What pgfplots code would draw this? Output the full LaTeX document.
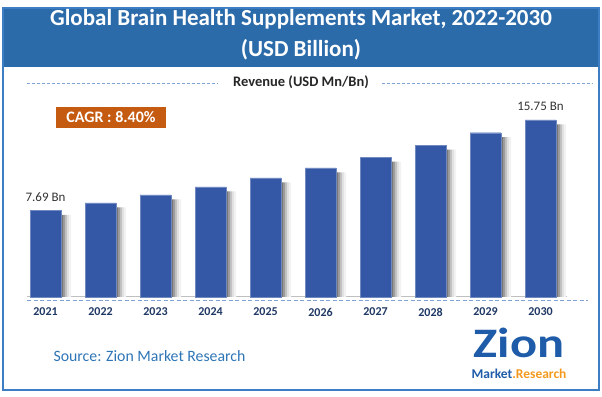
\documentclass[border=0pt]{standalone}
\usepackage{pgfplots}
\pgfplotsset{compat=1.18}
\usepackage{fontspec}
\setmainfont{Carlito}
\definecolor{barblue}{HTML}{3457A6}
\definecolor{banner}{HTML}{2C6BAA}
\definecolor{frameblue}{HTML}{3C7DC3}
\definecolor{navy}{HTML}{1F3864}
\definecolor{cagr}{HTML}{C55A11}
\definecolor{dashblue}{HTML}{7FA3D6}
\definecolor{srcblue}{HTML}{2E75B6}
\definecolor{logoblue}{HTML}{1E5BA8}
\definecolor{logoorange}{HTML}{F39A1E}
\pgfplotstableread{
x shadow
0 7.29
1 7.96
2 8.67
3 9.38
4 10.18
5 11.07
6 12.04
7 13.1
8 14.2
9 15.35
}\shadowtab
\begin{document}
\begin{tikzpicture}[x=1pt,y=1pt]
\path[use as bounding box] (0,0) rectangle (602,396);
% banner and frame
\fill[banner] (3,329) rectangle (599,388);
\draw[frameblue, line width=2.5pt] (3,6) rectangle (599,388);
\node[text=white, font=\fontsize{23}{27}\selectfont\bfseries] at (301,377) {Global Brain Health Supplements Market, 2022-2030};
\node[text=white, font=\fontsize{23}{27}\selectfont\bfseries] at (301,346) {(USD Billion)};
% revenue label
\draw[dashblue, line width=0.8pt, dash pattern=on 3pt off 2pt] (27,313) -- (218,313);
\draw[dashblue, line width=0.8pt, dash pattern=on 3pt off 2pt] (382,313) -- (593,313);
\node[text=black!85, font=\fontsize{14.5}{17}\selectfont\bfseries] at (301,313.5) {Revenue (USD Mn/Bn)};
% CAGR box
\fill[cagr] (56,268) rectangle (166,289);
\node[text=white, font=\fontsize{16}{19}\selectfont\bfseries] at (111,278.5) {CAGR : 8.40\%};
% baseline lines
\draw[black!25, line width=1pt] (27,99) -- (567,99);
\draw[dashblue, line width=1pt, dash pattern=on 4pt off 2.5pt] (27,95) -- (588,95);
\begin{axis}[
  at={(18pt,99pt)}, anchor=south west,
  scale only axis, width=550pt, height=225pt,
  xmin=-0.5, xmax=9.5, ymin=0, ymax=20,
  axis lines=none,
  xtick={0,...,9},
  xticklabels={2021,2022,2023,2024,2025,2026,2027,2028,2029,2030},
  ytick=\empty,
  clip=false,
  /pgf/number format/assume math mode=true,
]
\addplot[ybar, bar width=2.2pt, bar shift=16.5pt, draw=none, fill=black!55] table[x=x,y=shadow] {\shadowtab};
\addplot[ybar, bar width=2.2pt, bar shift=18.5pt, draw=none, fill=black!40] table[x=x,y=shadow] {\shadowtab};
\addplot[ybar, bar width=2.2pt, bar shift=20.5pt, draw=none, fill=black!25] table[x=x,y=shadow] {\shadowtab};
\addplot[ybar, bar width=2.2pt, bar shift=22.5pt, draw=none, fill=black!12] table[x=x,y=shadow] {\shadowtab};
\addplot[ybar, bar width=2.2pt, bar shift=24.5pt, draw=none, fill=black!5] table[x=x,y=shadow] {\shadowtab};
\addplot[ybar, bar width=31pt, bar shift=0pt, fill=barblue, draw=barblue!70!white, line width=0.4pt]
 coordinates {(0,7.69) (1,8.36) (2,9.07) (3,9.78) (4,10.58) (5,11.47) (6,12.44) (7,13.5) (8,14.6) (9,15.75)};
\addplot[draw=none, mark=none,
  nodes near coords={\pgfmathprintnumber[fixed,precision=2,fixed zerofill]{\pgfplotspointmeta}~Bn},
  every node near coord/.append style={anchor=center, yshift=13pt, text=black!80, font=\fontsize{13}{15}\selectfont}]
 coordinates {(0,7.69) (9,15.75)};
\end{axis}
% year labels
\foreach \i/\yr in {0/2021,1/2022,2/2023,3/2024,4/2025,5/2026,6/2027,7/2028,8/2029,9/2030}{
  \node[text=navy, font=\fontsize{12}{14}\selectfont\bfseries] at (45.5+55*\i,84) {\yr};
}
% source
\node[anchor=west, text=srcblue, font=\fontsize{15.8}{18}\selectfont] at (50,40) {Source: Zion Market Research};
% logo
\node[text=logoblue, font=\fontsize{42}{46}\selectfont\bfseries, xscale=1.2, inner sep=0pt, anchor=base] at (519,38) {Zion};
\node[font=\fontsize{13.5}{15}\selectfont\bfseries, inner sep=0pt, anchor=base] at (519,17) {\textcolor{logoblue}{Market}\textcolor{logoorange}{.Research}};
\end{tikzpicture}
\end{document}
